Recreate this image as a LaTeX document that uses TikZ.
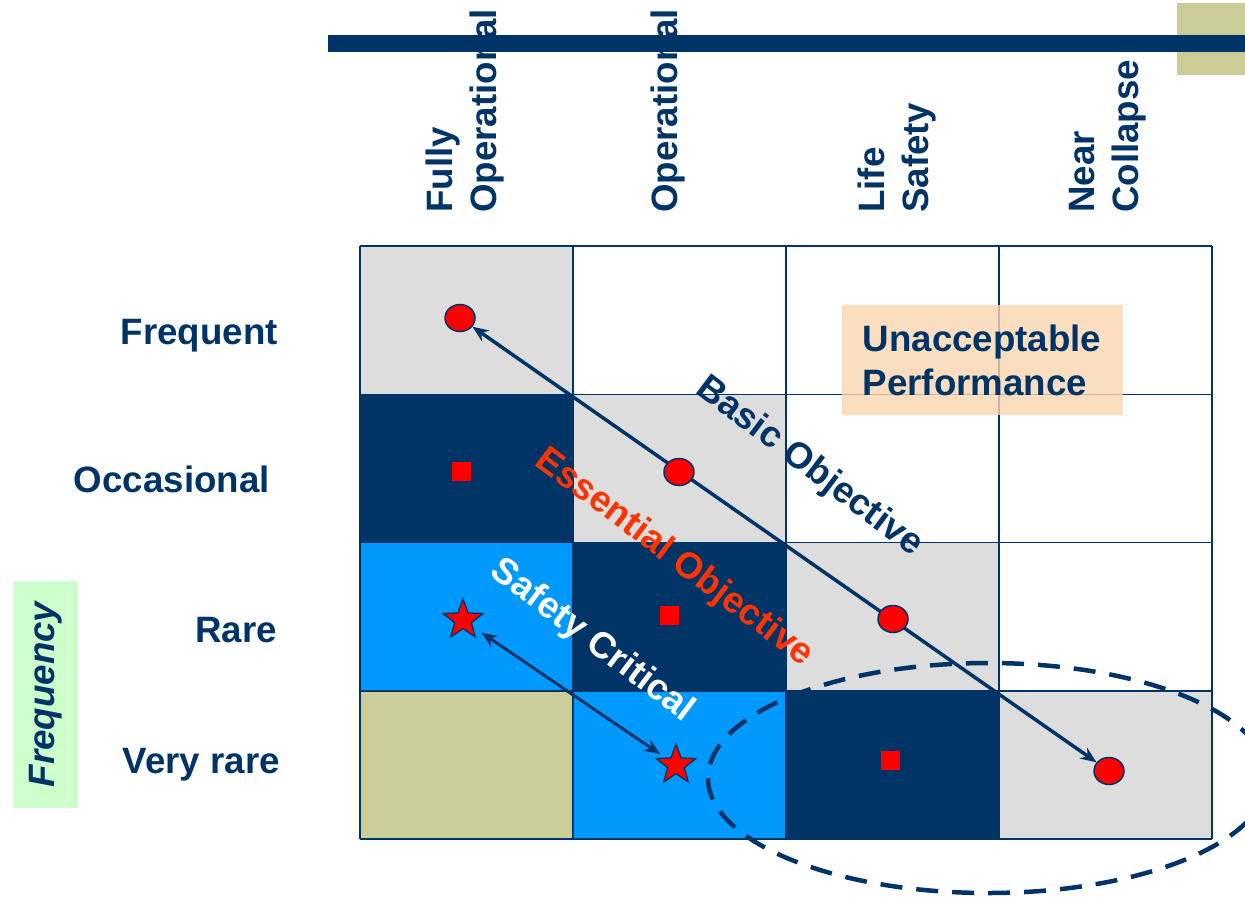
\documentclass[tikz,border=0pt]{standalone}
\usepackage{fontspec}
\setmainfont{Liberation Sans}
\usetikzlibrary{positioning,arrows.meta,shapes.geometric}
\definecolor{navy}{RGB}{0,51,102}
\definecolor{cellgray}{RGB}{221,221,221}
\definecolor{skyblue}{RGB}{0,153,255}
\definecolor{khaki}{RGB}{204,204,153}
\definecolor{essred}{RGB}{255,51,0}
\definecolor{mint}{RGB}{204,255,204}
\definecolor{peach}{RGB}{251,213,175}
\newcommand{\bigfont}{\fontsize{36.7}{44}\selectfont\bfseries}

\begin{document}
\begin{tikzpicture}[x=1pt, y=-1pt,
  lbl/.style={font=\bigfont, text=navy, inner sep=0pt},
  collbl/.style={lbl, rotate=90, anchor=west, align=left},
  rowlbl/.style={lbl, anchor=base east},
  diag/.style={font=\bigfont, rotate=-37, inner sep=0pt},
  gridln/.style={navy, line width=1.5pt},
  dot/.style={ellipse, draw=navy, line width=1.5pt, fill=red,
              minimum width=30pt, minimum height=27pt, inner sep=0pt},
  sq/.style={fill=red, minimum size=19pt, inner sep=0pt},
  staro/.style={star, star points=5, star point ratio=2.4, draw=navy,
                line width=1.3pt, fill=red, minimum size=42pt, inner sep=0pt},
  arr/.style={{Stealth[length=16pt,width=13pt]}-{Stealth[length=16pt,width=13pt]},
              line width=3.5pt, navy}
]
  \useasboundingbox (0,0) rectangle (1245,897);

  % Cells of the matrix (column/row/colour)
  \foreach \c/\r/\clr in {0/0/cellgray, 1/0/white, 2/0/white, 3/0/white,
                          0/1/navy, 1/1/cellgray, 2/1/white, 3/1/white,
                          0/2/skyblue, 1/2/navy, 2/2/cellgray, 3/2/white,
                          0/3/khaki, 1/3/skyblue, 2/3/navy, 3/3/cellgray}
    \fill[\clr] ({360+213*\c},{246+148.25*\r}) rectangle ++(213,148.25);
  \foreach \i in {0,...,4} {
    \draw[gridln] ({360+213*\i},246) -- ({360+213*\i},839);
    \draw[gridln] (360,{246+148.25*\i}) -- (1212,{246+148.25*\i});
  }

  % Column labels
  \node[collbl] (fullop) at (465,213) {Fully\\Operational};
  \node[collbl] (oper)   at (668,213) {Operational};
  \node[collbl] (life)   at (897,213) {Life\\Safety};
  \node[collbl] (near)   at (1108,213) {Near\\Collapse};

  % Top bar
  \fill[khaki] (1177,3) rectangle (1245,75);
  \fill[navy] (328,35) rectangle (1245,52);

  % Row labels
  \node[rowlbl] (freq) at (278,344) {Frequent};
  \node[rowlbl] (occ)  at (270,492) {Occasional};
  \node[rowlbl] (rare) at (277,642) {Rare};
  \node[rowlbl] (vrare) at (280,773) {Very rare};

  \node[lbl, font=\bigfont\itshape, rotate=90, fill=mint,
        minimum width=227pt, minimum height=65pt] (freqbox) at (45.5,694.5) {Frequency};

  % Unacceptable zone
  \node[lbl, align=left, fill=peach, fill opacity=0.8, text opacity=1,
        minimum width=281pt, minimum height=110pt] (unacc) at (982,360)
    {Unacceptable\\Performance};

  % Dashed zone
  \draw[navy, line width=4.5pt, dash pattern=on 22pt off 14pt]
    (988,778) ellipse [x radius=280pt, y radius=115pt];

  % Basic objective
  \node[dot] (fo) at (460,318) {};
  \node[dot] (nc) at (1109,771) {};
  \draw[arr] (fo) -- (nc);
  \node[dot] (op) at (679,472) {};
  \node[dot] (ls) at (893,619) {};

  % Essential objective
  \node[sq] (e1) at (461,471) {};
  \node[sq] (e2) at (669,615) {};
  \node[sq] (e3) at (890,760) {};

  % Safety critical
  \node[staro] (s1) at (463,620) {};
  \node[staro] (s2) at (676,765) {};
  \draw[arr, line width=3pt, shorten <=10pt, shorten >=6pt] (s1) -- (s2);

  \node[diag, text=navy]   (basic) at (809,467) {Basic Objective};
  \node[diag, text=essred] (ess)   at (674,558) {Essential Objective};
  \node[diag, text=white]  (safe)  at (592,641) {Safety Critical};
\end{tikzpicture}
\end{document}
